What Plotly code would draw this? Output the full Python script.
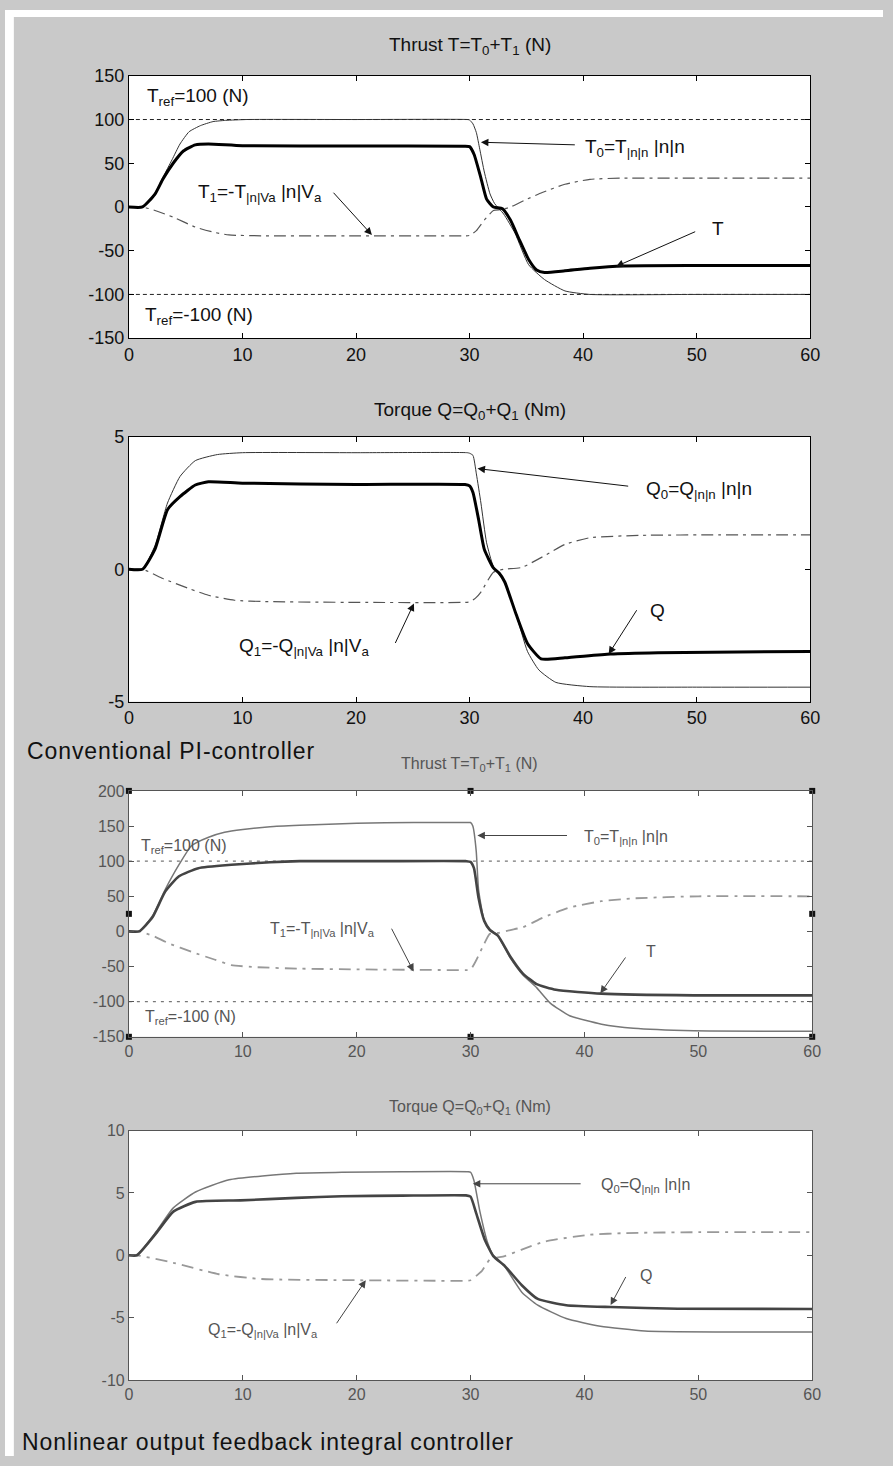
import plotly.graph_objects as go

W, H = 893, 1466

# ---------------- data ----------------
# Plot 1: conventional PI, thrust
p1_T_t = [0, 1.2, 2.3, 3.0, 3.9, 4.8, 5.85, 7, 10, 20, 29.5, 30, 30.4, 31.0, 31.5, 32.1, 32.9, 33.6, 34.4, 35.2, 35.9, 36.6, 38.4, 40.6, 43.6, 50, 60]
p1_T_v = [0, 0, 14.7, 32, 50, 64, 71, 72, 70, 69.8, 69.5, 69, 60, 33, 9, 0, -2, -15, -38, -60, -72, -75, -73, -70, -67.5, -67, -67]
p1_T0_t = [0, 1.2, 2.3, 3.0, 3.8, 4.5, 5.3, 6.3, 7.4, 8.5, 10.4, 20, 29.8, 30, 30.3, 30.6, 30.9, 31.3, 31.8, 32.2, 33, 34, 35.2, 36.6, 38.4, 40.6, 50, 60]
p1_T0_v = [0, 0, 16, 34, 54, 72, 86, 93, 97.6, 99, 100, 100, 100, 99.5, 95, 85, 66, 40, 15, 4, -8, -30, -66, -83, -96, -100, -100, -100]
p1_T1_t = [0, 1.2, 2.3, 3.9, 5.85, 7.5, 8.8, 12, 20, 29.6, 30, 30.6, 31.3, 32.1, 32.8, 33.6, 34.8, 36.4, 38.4, 40.6, 43.6, 50, 60]
p1_T1_v = [0, 0, -4, -11.6, -23, -29, -32, -33, -33, -33, -32.5, -27, -15, -4, -3, 0, 7.4, 16.5, 26, 31.6, 33, 33, 33]

# Plot 2: conventional PI, torque
p2_Q_t = [0, 1.2, 2.3, 3.4, 4.5, 5.85, 7, 10, 20, 29.6, 30, 30.3, 30.8, 31.3, 32.1, 32.6, 33.1, 34.1, 35.1, 36.3, 38.4, 42.4, 46.6, 60]
p2_Q_v = [0, 0, 0.76, 2.25, 2.74, 3.18, 3.3, 3.25, 3.2, 3.2, 3.15, 2.9, 1.87, 0.75, 0.05, -0.14, -0.48, -1.7, -2.8, -3.38, -3.34, -3.2, -3.15, -3.1]
p2_Q0_t = [0, 1.2, 2.3, 3.4, 4.5, 5.85, 7.8, 10, 20, 29.8, 30, 30.3, 30.6, 31.0, 31.5, 32.1, 33.1, 34.1, 35.1, 36.1, 37.6, 40.6, 50, 60]
p2_Q0_v = [0, 0, 0.9, 2.5, 3.5, 4.1, 4.33, 4.4, 4.4, 4.4, 4.38, 4.3, 3.6, 2.5, 1.0, 0.1, -0.5, -1.7, -3.1, -3.8, -4.27, -4.43, -4.45, -4.45]
p2_Q1_t = [0, 1.2, 3, 5.3, 7, 9.3, 12, 20, 29.6, 30, 30.5, 31, 32.1, 33, 34.6, 36.6, 38.4, 40.6, 45, 52, 60]
p2_Q1_v = [0, 0, -0.35, -0.73, -0.98, -1.17, -1.22, -1.25, -1.25, -1.23, -1.1, -0.86, -0.11, 0, 0.07, 0.51, 0.94, 1.19, 1.28, 1.3, 1.3]

# Plot 3: nonlinear output feedback integral, thrust
p3_T_t = [0, 0.9, 2.07, 3.2, 4.4, 6.1, 9, 12.4, 15, 22, 29.6, 30, 30.3, 30.7, 31.2, 31.7, 32.4, 33.5, 34.6, 35.8, 37.5, 41.5, 49.6, 60]
p3_T_v = [0, 0, 20, 57, 78.5, 90, 94.8, 98.5, 100, 100, 100, 99, 90, 48, 15, 2, -6, -36, -60, -75, -83, -88.6, -91, -91]
p3_T0_t = [0, 0.9, 2.07, 3.2, 4.4, 5.5, 7, 8.4, 10, 12.4, 15, 20, 25, 29.8, 30, 30.2, 30.5, 30.7, 31.2, 31.7, 32.4, 33.5, 34.6, 35.8, 37, 38.7, 41.5, 44.3, 49.6, 60]
p3_T0_v = [0, 0, 22, 60, 95, 122, 134, 141, 145, 149, 151, 154, 155, 155, 155, 150, 114, 60, 15, 2, -6, -38, -62, -80, -102, -120, -132, -138, -141.5, -142]
p3_T1_t = [0, 0.9, 2.07, 3.5, 5.5, 7.5, 9, 11.3, 15, 20, 29.6, 30, 30.5, 31.2, 31.7, 32.5, 33.5, 34.6, 36.4, 38.7, 41.5, 44.3, 50, 60]
p3_T1_v = [0, 0, -6, -17, -29, -40, -48, -51, -53, -54, -55, -54.5, -41, -17.5, -3.5, -2, 2, 6, 20, 34, 43, 47, 50, 50]
p3_handle_x = [0, 30, 60, 0, 60, 0, 30, 60]
p3_handle_y = [200, 200, 200, 25, 25, -150, -150, -150]

# Plot 4: nonlinear output feedback integral, torque
p4_Q_t = [0, 0.7, 2.4, 3.9, 5.85, 9.8, 14.7, 18.7, 24, 29.6, 30, 30.5, 31.25, 32, 33, 34.5, 35.9, 38.4, 42.3, 48.2, 60]
p4_Q_v = [0, 0, 1.78, 3.5, 4.28, 4.4, 4.6, 4.73, 4.78, 4.8, 4.7, 3.36, 1.25, -0.07, -0.85, -2.4, -3.5, -4.0, -4.15, -4.28, -4.3]
p4_Q0_t = [0, 0.7, 2.4, 3.9, 5.85, 8.8, 14.7, 18.7, 24, 29.8, 30, 30.3, 30.8, 31.5, 32, 33, 34.5, 35.9, 38.4, 41.4, 45.3, 52, 60]
p4_Q0_v = [0, 0, 1.9, 3.8, 5.07, 6.05, 6.58, 6.65, 6.7, 6.7, 6.65, 6.0, 3.6, 1.0, 0, -0.9, -2.96, -4.0, -5.07, -5.68, -6.07, -6.15, -6.15]
p4_Q1_t = [0, 0.7, 3.9, 7.9, 11.6, 20, 29.6, 30, 31, 31.7, 33, 34.5, 36.6, 40.4, 43.6, 50, 60]
p4_Q1_v = [0, 0, -0.6, -1.52, -1.9, -2.0, -2.04, -2.0, -1.25, -0.33, -0.07, 0.46, 1.12, 1.64, 1.78, 1.85, 1.85]

ref_t = [0, 60]
ref_levels = [100, -100]

x_ticks = [0, 10, 20, 30, 40, 50, 60]
p1_yticks = [-150, -100, -50, 0, 50, 100, 150]
p2_yticks = [-5, 0, 5]
p3_yticks = [-150, -100, -50, 0, 50, 100, 150, 200]
p4_yticks = [-10, -5, 0, 5, 10]

titles = ["Thrust T=T<sub>0</sub>+T<sub>1</sub> (N)",
          "Torque Q=Q<sub>0</sub>+Q<sub>1</sub> (Nm)",
          "Thrust T=T<sub>0</sub>+T<sub>1</sub> (N)",
          "Torque Q=Q<sub>0</sub>+Q<sub>1</sub> (Nm)"]
captions = ["Conventional PI-controller", "Nonlinear output feedback integral controller"]

# ---------------- figure ----------------
FONT = "Liberation Sans, Arial, sans-serif"
GRAY = "#c9c9c9"
fig = go.Figure()

def px_x(p):
    return p / W

def px_y(p):
    return 1 - p / H

# domains (pixels)
doms = [
    ((126, 819), (66.7, 332.7)),
    ((126, 819), (432.7, 701.3)),
    ((126, 821), (791.7, 1041.0)),
    ((126, 821), (1136.0, 1389.0)),
]

def add_line(i, t, v, color, width, dash="solid", smooth=True):
    sfx = "" if i == 1 else str(i)
    line = dict(color=color, width=width, dash=dash)
    if smooth:
        line.update(shape="spline", smoothing=0.5)
    fig.add_trace(go.Scatter(x=t, y=v, mode="lines", xaxis="x" + sfx, yaxis="y" + sfx,
                             line=line, showlegend=False, hoverinfo="skip"))

# plot 1
for lv in ref_levels:
    add_line(1, ref_t, [lv, lv], "#222222", 1, "4px,3px", smooth=False)
add_line(1, p1_T1_t, p1_T1_v, "#555555", 1.2, "12px,5px,3px,5px")
add_line(1, p1_T0_t, p1_T0_v, "#333333", 1)
add_line(1, p1_T_t, p1_T_v, "#000000", 3)
# plot 2
add_line(2, p2_Q1_t, p2_Q1_v, "#555555", 1.2, "12px,5px,3px,5px")
add_line(2, p2_Q0_t, p2_Q0_v, "#333333", 1)
add_line(2, p2_Q_t, p2_Q_v, "#000000", 3)
# plot 3
for lv in ref_levels:
    add_line(3, ref_t, [lv, lv], "#777777", 1.3, "3px,5px", smooth=False)
add_line(3, p3_T1_t, p3_T1_v, "#999999", 1.8, "12px,6px,3px,6px")
add_line(3, p3_T0_t, p3_T0_v, "#777777", 1.5)
add_line(3, p3_T_t, p3_T_v, "#444444", 2.6)
fig.add_trace(go.Scatter(x=p3_handle_x, y=p3_handle_y, mode="markers", xaxis="x3", yaxis="y3",
                         marker=dict(symbol="square", size=6, color="#111111"),
                         cliponaxis=False, showlegend=False, hoverinfo="skip"))
# plot 4
add_line(4, p4_Q1_t, p4_Q1_v, "#999999", 1.8, "12px,6px,3px,6px")
add_line(4, p4_Q0_t, p4_Q0_v, "#777777", 1.5)
add_line(4, p4_Q_t, p4_Q_v, "#444444", 2.6)

yranges = [(-150, 150), (-5, 5), (-150, 200), (-10, 10)]
yticks = [p1_yticks, p2_yticks, p3_yticks, p4_yticks]
layout = dict(width=W, height=H, margin=dict(l=0, r=0, t=0, b=0),
              paper_bgcolor=GRAY, plot_bgcolor="#ffffff", showlegend=False)
for i in range(4):
    sfx = "" if i == 0 else str(i + 1)
    (x0, x1), (ytop, ybot) = doms[i]
    old = i < 2
    tickfont = dict(family=FONT, size=18 if old else 16, color="#111111" if old else "#555555")
    lc = "#000000" if old else "#555555"
    layout["xaxis" + sfx] = dict(domain=[px_x(x0), px_x(x1)], anchor="y" + sfx, range=[0, 60],
                                 tickvals=x_ticks, ticktext=[str(v) for v in x_ticks],
                                 ticks="inside", ticklen=5, tickcolor=lc,
                                 showline=True, linecolor=lc, linewidth=1, mirror="ticks",
                                 showgrid=False, zeroline=False, tickfont=tickfont)
    layout["yaxis" + sfx] = dict(domain=[px_y(ybot), px_y(ytop)], anchor="x" + sfx, range=list(yranges[i]),
                                 tickvals=yticks[i], ticktext=[str(v) for v in yticks[i]],
                                 ticks="inside", ticklen=5, tickcolor=lc,
                                 showline=True, linecolor=lc, linewidth=1, mirror="ticks",
                                 showgrid=False, zeroline=False, tickfont=tickfont)
fig.update_layout(**layout)

# white margin strips (top and left of the original scan)
fig.add_shape(type="rect", xref="paper", yref="paper", x0=0, x1=1, y0=px_y(7), y1=1,
              fillcolor="#ffffff", line_width=0, layer="below")
fig.add_shape(type="rect", xref="paper", yref="paper", x0=0, x1=px_x(9), y0=0, y1=1,
              fillcolor="#ffffff", line_width=0, layer="below")
# gray strip at the right edge (scan background runs to the edge)
fig.add_shape(type="rect", xref="paper", yref="paper", x0=px_x(860), x1=1, y0=0, y1=px_y(7),
              fillcolor=GRAY, line_width=0, layer="above")

# titles
title_y = [37, 406.7, 765, 1113]
for i in range(4):
    old = i < 2
    fig.add_annotation(text=titles[i], xref="paper", yref="paper", x=px_x(472.5), y=px_y(title_y[i]),
                       xanchor="center", yanchor="middle", showarrow=False,
                       font=dict(family=FONT, size=19 if old else 16, color="#111111" if old else "#555555"))

# captions
cap_style = "<span style='letter-spacing:0.9px'>%s</span>"
fig.add_annotation(text=cap_style % captions[0], xref="paper", yref="paper", x=px_x(20), y=px_y(751.7),
                   xanchor="left", yanchor="middle", showarrow=False,
                   font=dict(family=FONT, size=23, color="#111111"))
fig.add_annotation(text=cap_style % captions[1], xref="paper", yref="paper", x=px_x(15), y=px_y(1451.7),
                   xanchor="left", yanchor="middle", showarrow=False,
                   font=dict(family=FONT, size=23, color="#111111"))

def label(i, text, x, y, old):
    sfx = "" if i == 1 else str(i)
    fig.add_annotation(text=text, xref="x" + sfx, yref="y" + sfx, x=x, y=y, xanchor="left",
                       yanchor="middle", showarrow=False,
                       font=dict(family=FONT, size=19 if old else 16, color="#111111" if old else "#555555"))

def arrow(i, hx, hy, tx, ty, old):
    sfx = "" if i == 1 else str(i)
    fig.add_annotation(text="", xref="x" + sfx, yref="y" + sfx, x=hx, y=hy,
                       axref="x" + sfx, ayref="y" + sfx, ax=tx, ay=ty, showarrow=True,
                       arrowhead=2, arrowsize=1.5, arrowwidth=1,
                       arrowcolor="#111111" if old else "#444444")

# plot 1 labels
label(1, "T<sub>ref</sub>=100 (N)", 1.4, 126, True)
label(1, "T<sub>ref</sub>=-100 (N)", 1.2, -125, True)
label(1, "T<sub>0</sub>=T<sub>|n|n</sub> |n|n", 40.0, 68, True)
arrow(1, 31.0, 74, 39.4, 71, True)
label(1, "T<sub>1</sub>=-T<sub>|n|Va</sub> |n|V<sub>a</sub>", 5.9, 16, True)
arrow(1, 21.4, -32, 17.9, 18, True)
label(1, "T", 51.2, -25, True)
arrow(1, 42.9, -68, 50.0, -27.5, True)
# plot 2 labels
label(2, "Q<sub>0</sub>=Q<sub>|n|n</sub> |n|n", 45.4, 3.0, True)
arrow(2, 30.7, 3.8, 44.1, 3.13, True)
label(2, "Q<sub>1</sub>=-Q<sub>|n|Va</sub> |n|V<sub>a</sub>", 9.5, -2.95, True)
arrow(2, 25.1, -1.29, 23.4, -2.84, True)
label(2, "Q", 45.7, -1.56, True)
arrow(2, 42.25, -3.2, 44.8, -1.49, True)
# plot 3 labels
label(3, "T<sub>ref</sub>=100 (N)", 0.9, 121, False)
label(3, "T<sub>ref</sub>=-100 (N)", 1.2, -122, False)
label(3, "T<sub>0</sub>=T<sub>|n|n</sub> |n|n", 39.8, 133, False)
arrow(3, 30.6, 136.5, 38.6, 136.5, False)
label(3, "T<sub>1</sub>=-T<sub>|n|Va</sub> |n|V<sub>a</sub>", 12.2, 3, False)
arrow(3, 25.0, -57, 23.0, 6, False)
label(3, "T", 45.2, -29, False)
arrow(3, 41.4, -88, 43.7, -35, False)
# plot 4 labels
label(4, "Q<sub>0</sub>=Q<sub>|n|n</sub> |n|n", 41.3, 5.6, False)
arrow(4, 30.2, 5.73, 39.8, 5.73, False)
label(4, "Q<sub>1</sub>=-Q<sub>|n|Va</sub> |n|V<sub>a</sub>", 6.8, -6.0, False)
arrow(4, 20.8, -2.0, 18.15, -5.57, False)
label(4, "Q", 44.7, -1.62, False)
arrow(4, 42.3, -3.99, 43.7, -1.62, False)

fig.write_html("out.html", post_script=(
    "document.documentElement.style.background='%s';"
    "document.body.style.background='%s';"
    "document.body.style.margin='0';document.body.style.overflow='hidden';" % (GRAY, GRAY)))
